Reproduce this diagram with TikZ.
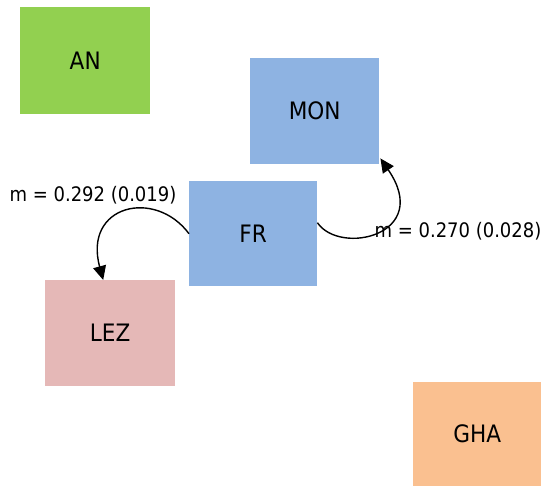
\documentclass[tikz,border=0pt]{standalone}
\usepackage{fontspec}
\setmainfont{DejaVu Sans Condensed}
\usetikzlibrary{arrows.meta}
\definecolor{cgreen}{RGB}{146,208,80}
\definecolor{cblue}{RGB}{142,179,226}
\definecolor{cpink}{RGB}{229,184,183}
\definecolor{corange}{RGB}{250,192,144}
\tikzset{
  box/.style={anchor=north west, inner sep=0pt, draw=none, font=\fontsize{24}{28}\selectfont},
  edgelbl/.style={inner sep=0pt, font=\fontsize{20}{24}\selectfont},
  conn/.style={line width=1.4pt, -{Triangle[length=14pt,width=13pt]}}
}
\begin{document}
\begin{tikzpicture}[x=1pt,y=-1pt]
\useasboundingbox (0,0) rectangle (543,486);
\node[box, fill=cgreen, minimum width=130pt, minimum height=107pt] (AN) at (20,7) {AN};
\node[box, fill=cblue, minimum width=129pt, minimum height=106pt] (MON) at (250,58) {MON};
\node[box, fill=cblue, minimum width=128pt, minimum height=105pt] (FR) at (189,181) {FR};
\node[box, fill=cpink, minimum width=130pt, minimum height=106pt] (LEZ) at (45,280) {LEZ};
\node[box, fill=corange, minimum width=128pt, minimum height=104pt] (GHA) at (413,382) {GHA};
\draw[conn] (FR.west) .. controls (155,188) and (83,205) .. ([xshift=-7pt]LEZ.north);
\draw[conn] ([yshift=11pt]FR.east) .. controls (340,256) and (433,235) .. ([shift={(1pt,6pt)}]MON.south east);
\node[edgelbl] (L1) at (93,195) {m = 0.292 (0.019)};
\node[edgelbl] (L2) at (458,231) {m = 0.270 (0.028)};
\end{tikzpicture}
\end{document}
